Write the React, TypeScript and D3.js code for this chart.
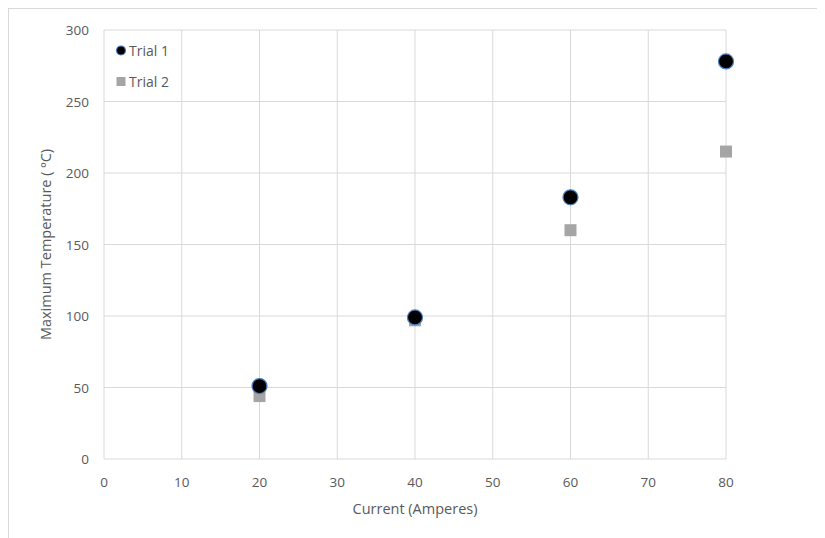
import React from "react";
import * as d3 from "d3";

const trial1X = [20, 40, 60, 80];
const trial1Y = [51, 99, 183, 278];
const trial2X = [20, 40, 60, 80];
const trial2Y = [44, 97, 160, 215];
const xTicks = [0, 10, 20, 30, 40, 50, 60, 70, 80];
const yTicks = [0, 50, 100, 150, 200, 250, 300];
const seriesNames = ["Trial 1", "Trial 2"];

const W = 825;
const H = 538;
const font = "'Open Sans', 'Noto Sans', sans-serif";

export default function App() {
  const x = d3.scaleLinear().domain([0, 80]).range([104, 726]);
  const y = d3.scaleLinear().domain([0, 300]).range([459, 30]);
  const sq = d3.symbol().type(d3.symbolSquare).size(144)();
  return (
    <svg width={W - 8} height={H - 8} viewBox={`8 8 ${W - 8} ${H - 8}`} style={{ display: "block" }}>
      <rect x={8.5} y={8.5} width={W} height={H} fill="#fff" stroke="#d9d9d9" strokeWidth={1} />
      {xTicks.map((t) => (
        <line key={"gx" + t} x1={x(t)} x2={x(t)} y1={y(0)} y2={y(300)} stroke="#d9d9d9" strokeWidth={1} />
      ))}
      {yTicks.map((t) => (
        <line key={"gy" + t} x1={x(0)} x2={x(80)} y1={y(t)} y2={y(t)} stroke="#d9d9d9" strokeWidth={1} />
      ))}
      {xTicks.map((t) => (
        <text key={"tx" + t} x={x(t)} y={487} textAnchor="middle" fontFamily={font} fontSize={13.5} fill="#595959">
          {t}
        </text>
      ))}
      {yTicks.map((t) => (
        <text key={"ty" + t} x={89} y={y(t) + 5} textAnchor="end" fontFamily={font} fontSize={13.5} fill="#595959">
          {t}
        </text>
      ))}
      <text x={(x(0) + x(80)) / 2} y={514} textAnchor="middle" fontFamily={font} fontSize={14.5} fill="#595959">
        Current (Amperes)
      </text>
      <text
        transform={`translate(51,${(y(0) + y(300)) / 2}) rotate(-90)`}
        textAnchor="middle"
        fontFamily={font}
        fontSize={14.5}
        fill="#595959"
      >
        Maximum Temperature ( ºC)
      </text>
      {trial2X.map((v, i) => (
        <path key={"s2" + i} d={sq} transform={`translate(${x(v)},${y(trial2Y[i])})`} fill="#a5a5a5" />
      ))}
      {trial1X.map((v, i) => (
        <circle key={"s1" + i} cx={x(v)} cy={y(trial1Y[i])} r={7.5} fill="#000" stroke="#4a7fc0" strokeWidth={1.2} />
      ))}
      <circle cx={121} cy={50.5} r={4.5} fill="#000" stroke="#4a7fc0" strokeWidth={1.2} />
      <text x={129} y={55.5} fontFamily={font} fontSize={14} fill="#595959">
        {seriesNames[0]}
      </text>
      <rect x={116.5} y={77} width={9} height={9} fill="#a5a5a5" />
      <text x={129} y={86.5} fontFamily={font} fontSize={14} fill="#595959">
        {seriesNames[1]}
      </text>
    </svg>
  );
}
